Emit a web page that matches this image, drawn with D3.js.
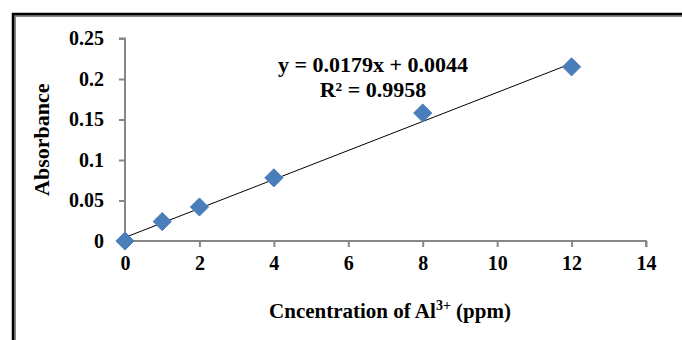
<!DOCTYPE html>
<html>
<head>
<meta charset="utf-8">
<script src="https://cdn.jsdelivr.net/npm/d3@7"></script>
<style>
  body { margin: 0; background: #fff; }
  svg text { font-family: "Liberation Serif", "Times New Roman", serif; font-weight: bold; fill: #000; }
</style>
</head>
<body>
<svg id="chart" width="682" height="340"></svg>
<script>
// data
var conc = [0, 1, 2, 4, 8, 12];
var absorbance = [0, 0.024, 0.042, 0.078, 0.158, 0.215];
var xTicks = [0, 2, 4, 6, 8, 10, 12, 14];
var yTicks = [0, 0.05, 0.1, 0.15, 0.2, 0.25];
var slope = 0.0179, intercept = 0.0044;
var eqLabel = 'y = 0.0179x + 0.0044';
var r2Label = 'R² = 0.9958';

var svg = d3.select('#chart');

// frame (black outer line + grey inner line, top and left)
svg.append('path').attr('d', 'M15,340 V16 H682').attr('fill', 'none').attr('stroke', '#888').attr('stroke-width', 2);
svg.append('path').attr('d', 'M13,340 V14 H682').attr('fill', 'none').attr('stroke', '#000').attr('stroke-width', 2.5);

var x = d3.scaleLinear().domain([0, 14]).range([125, 646]);
var y = d3.scaleLinear().domain([0, 0.25]).range([241, 38.5]);

var xAxis = svg.append('g').attr('transform', 'translate(0,' + y(0) + ')')
  .call(d3.axisBottom(x).tickValues(xTicks).tickSize(6).tickPadding(9).tickFormat(d3.format('d')));
var yAxis = svg.append('g').attr('transform', 'translate(' + x(0) + ',0)')
  .call(d3.axisLeft(y).tickValues(yTicks).tickSize(6).tickPadding(15).tickFormat(function(d) { return d3.format('')(+d.toFixed(2)); }));

[xAxis, yAxis].forEach(function(a) {
  a.attr('font-family', '"Liberation Serif", serif').attr('font-size', 20);
  a.selectAll('path, line').attr('stroke', '#868686').attr('stroke-width', 2);
  a.selectAll('text').style('font-size', '20px').style('font-weight', 'bold').attr('fill', '#000');
});
xAxis.select('.domain').attr('d', 'M' + x(0) + ',0H' + x(14) + 'V6');
yAxis.select('.domain').attr('d', 'M-6,' + y(0.25) + 'H0V' + y(0));

// trend line
svg.append('line')
  .attr('x1', x(0)).attr('y1', y(intercept))
  .attr('x2', x(12)).attr('y2', y(slope * 12 + intercept))
  .attr('stroke', '#000').attr('stroke-width', 1);

// diamond markers
svg.selectAll('.pt').data(conc).enter().append('path')
  .attr('class', 'pt')
  .attr('d', d3.symbol().type(d3.symbolDiamond2).size(210))
  .attr('transform', function(d, i) { return 'translate(' + x(d) + ',' + y(absorbance[i]) + ')'; })
  .attr('fill', '#4a7ebb').attr('stroke', '#4a7ebb').attr('stroke-width', 1);

// equation
svg.append('text').attr('x', 373).attr('y', 72).attr('text-anchor', 'middle').style('font-size', '22px').text(eqLabel);
svg.append('text').attr('x', 373).attr('y', 97).attr('text-anchor', 'middle').style('font-size', '22px').text(r2Label);

// axis titles
svg.append('text')
  .attr('transform', 'translate(49,' + ((y(0) + y(0.25)) / 2) + ') rotate(-90)')
  .attr('text-anchor', 'middle').style('font-size', '22px').text('Absorbance');

var xt = svg.append('text').attr('x', 390).attr('y', 318).attr('text-anchor', 'middle').style('font-size', '21px');
xt.append('tspan').text('Cncentration of Al');
xt.append('tspan').attr('dy', -8).style('font-size', '14px').text('3+');
xt.append('tspan').attr('dy', 8).text(' (ppm)');
</script>
</body>
</html>
